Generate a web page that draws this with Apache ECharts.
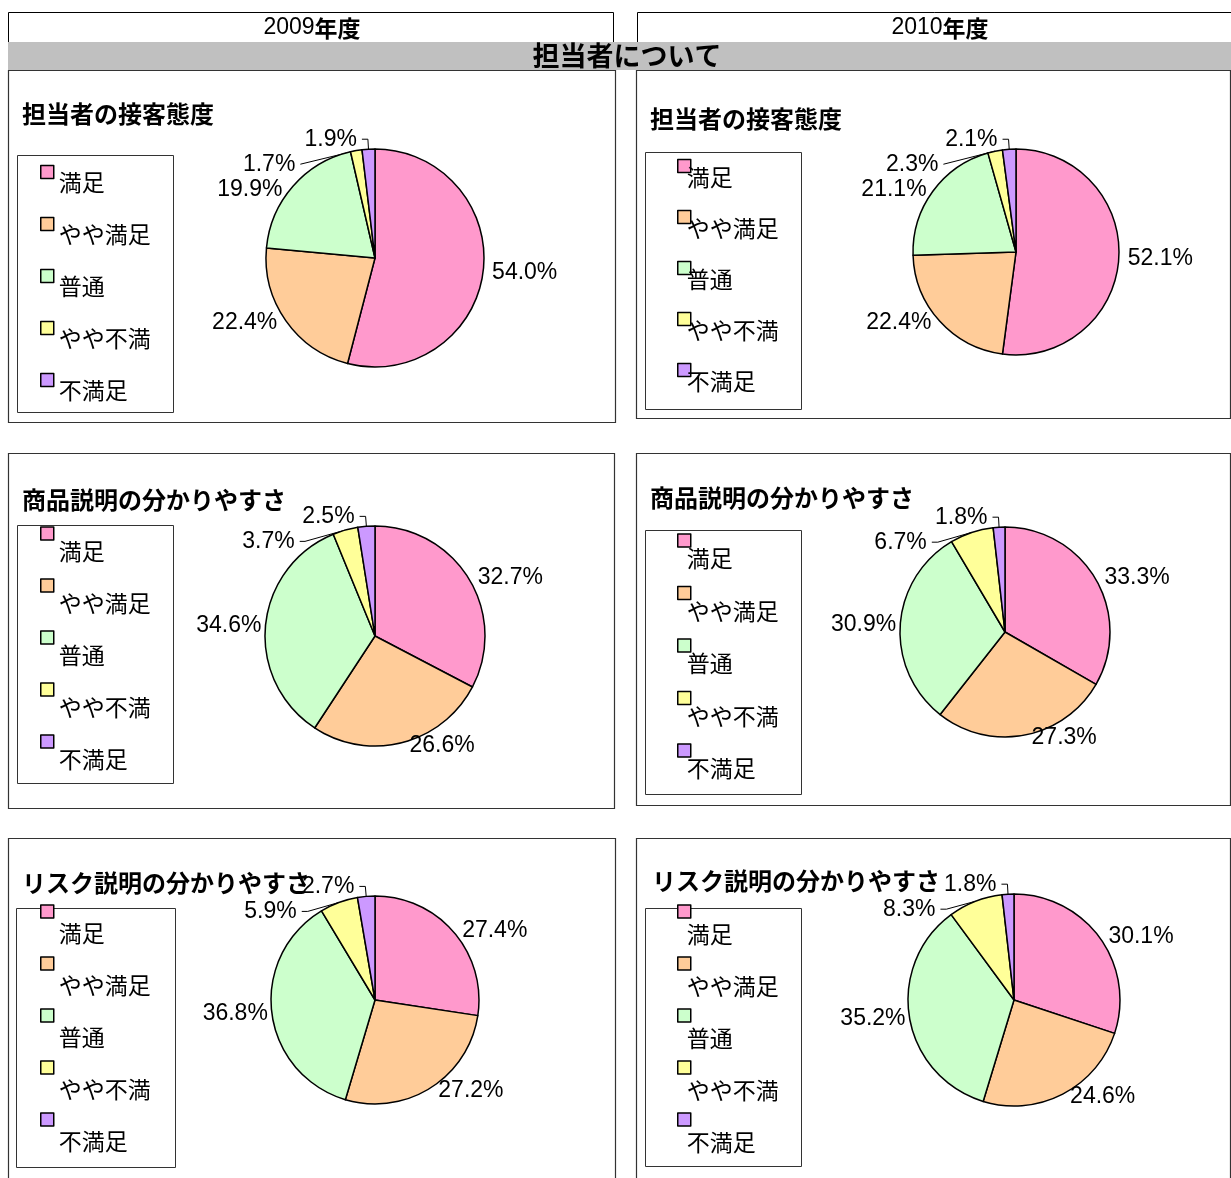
<!DOCTYPE html>
<html>
<head>
<meta charset="utf-8">
<script src="https://cdn.jsdelivr.net/npm/echarts@6/dist/echarts.min.js"></script>
<style>
  html, body { margin: 0; padding: 0; background: #fff; }
  #chart { width: 1231px; height: 1178px; }
</style>
</head>
<body>
<div id="chart"></div>
<script>
// data
const categories = ['満足', 'やや満足', '普通', 'やや不満', '不満足'];
const yearLabels = ['2009', '2010'];
const sectionTitle = '担当者について';
const questionTitles = ['担当者の接客態度', '商品説明の分かりやすさ', 'リスク説明の分かりやすさ'];
const staff2009 = [54.0, 22.4, 19.9, 1.7, 1.9];
const staff2010 = [52.1, 22.4, 21.1, 2.3, 2.1];
const product2009 = [32.7, 26.6, 34.6, 3.7, 2.5];
const product2010 = [33.3, 27.3, 30.9, 6.7, 1.8];
const risk2009 = [27.4, 27.2, 36.8, 5.9, 2.7];
const risk2010 = [30.1, 24.6, 35.2, 8.3, 1.8];

const colors = ['#FF99CC', '#FFCC99', '#CCFFCC', '#FFFF99', '#CC99FF'];
const numFont = "'Liberation Sans', Arial, sans-serif";
const jpFont = "'Noto Sans CJK JP', sans-serif";

// layout of the six panels (lh = legend line height, text drops lh/2 below icon)
const panels = [
  { values: staff2009, title: 0, box: [8, 70, 607, 352], tx: 22, ty: 114,
    center: [375, 258], r: 109, lg: [17, 155, 156, 257], lgLeft: 40, lgTop: 150.5, lh: 20, gap: 9, shift: 0 },
  { values: staff2010, title: 0, box: [636, 70, 594, 348], tx: 650, ty: 119,
    center: [1016, 252], r: 103, lg: [645, 152, 156, 257], lgLeft: 677, lgTop: 143.5, lh: 22, gap: 6, shift: -9 },
  { values: product2009, title: 1, box: [8, 453, 606, 355], tx: 22, ty: 500,
    center: [375, 636], r: 110, lg: [17, 525, 156, 258], lgLeft: 40, lgTop: 497.5, lh: 36, gap: -20, shift: 0 },
  { values: product2010, title: 1, box: [636, 453, 594, 352], tx: 650, ty: 498,
    center: [1005, 632], r: 105, lg: [645, 530, 156, 264], lgLeft: 677, lgTop: 504.5, lh: 36, gap: -19.5, shift: -9 },
  { values: risk2009, title: 2, box: [8, 838, 607, 360], tx: 22, ty: 883,
    center: [375, 1000], r: 104, lg: [16, 908, 159, 259], lgLeft: 40, lgTop: 867.5, lh: 44, gap: -36, shift: 0 },
  { values: risk2010, title: 2, box: [636, 838, 594, 360], tx: 652, ty: 881,
    center: [1014, 1000], r: 106, lg: [645, 908, 156, 258], lgLeft: 677, lgTop: 865.5, lh: 46, gap: -40, shift: -9 }
];

const chart = echarts.init(document.getElementById('chart'));

const yearRich = {
  n: { font: "23px " + numFont, fill: '#000' },
  k: { font: "bold 23px " + jpFont, fill: '#000' }
};

const graphic = [];
// year header boxes
graphic.push({ type: 'rect', shape: { x: 8.5, y: 12.5, width: 605, height: 30 }, style: { fill: '#fff', stroke: '#000', lineWidth: 1 } });
graphic.push({ type: 'rect', shape: { x: 637.5, y: 12.5, width: 600, height: 30 }, style: { fill: '#fff', stroke: '#000', lineWidth: 1 } });
yearLabels.forEach((y, i) => {
  graphic.push({ type: 'text', x: i === 0 ? 312 : 940, y: 28,
    style: { text: '{n|' + y + '}{k|年度}', rich: yearRich, fill: '#000', textAlign: 'center', textVerticalAlign: 'middle' } });
});
// section band
graphic.push({ type: 'rect', shape: { x: 8, y: 42, width: 1223, height: 28 }, style: { fill: '#C0C0C0' } });
graphic.push({ type: 'text', x: 627, y: 56, style: { text: sectionTitle, font: "bold 27px " + jpFont, fill: '#000', textAlign: 'center', textVerticalAlign: 'middle' } });

panels.forEach(p => {
  graphic.push({ type: 'rect', shape: { x: p.box[0] + 0.5, y: p.box[1] + 0.5, width: p.box[2], height: p.box[3] },
    style: { fill: 'none', stroke: '#333', lineWidth: 1.2 } });
  graphic.push({ type: 'rect', shape: { x: p.lg[0] + 0.5, y: p.lg[1] + 0.5, width: p.lg[2], height: p.lg[3] },
    style: { fill: 'none', stroke: '#333', lineWidth: 1 } });
  graphic.push({ type: 'text', x: p.tx, y: p.ty,
    style: { text: questionTitles[p.title], font: "bold 24px " + jpFont, fill: '#000', textVerticalAlign: 'middle' } });
});

const legends = panels.map(p => ({
  orient: 'vertical',
  left: p.lgLeft,
  top: p.lgTop,
  padding: 0,
  itemGap: p.gap,
  itemWidth: 13,
  itemHeight: 13,
  icon: 'rect',
  selectedMode: false,
  data: categories,
  formatter: name => '\n' + name,
  itemStyle: { borderColor: '#000', borderWidth: 1.5 },
  textStyle: {
    fontFamily: jpFont,
    fontSize: 23,
    lineHeight: p.lh,
    color: '#000',
    padding: [0, 0, 0, p.shift]
  }
}));

const series = panels.map(p => ({
  type: 'pie',
  center: p.center,
  radius: p.r,
  startAngle: 90,
  clockwise: true,
  animation: false,
  avoidLabelOverlap: true,
  itemStyle: { borderColor: '#000', borderWidth: 1.5 },
  label: {
    show: true,
    position: 'outside',
    formatter: d => d.value.toFixed(1) + '%',
    fontFamily: numFont,
    fontSize: 23,
    color: '#000'
  },
  labelLine: { show: false, length: 3, length2: 1, lineStyle: { color: '#000', width: 1 } },
  emphasis: { disabled: true },
  data: p.values.map((v, i) => ({
    name: categories[i],
    value: v,
    itemStyle: { color: colors[i] },
    labelLine: v < 10 ? { show: true, length: 10, length2: 6 } : { show: false }
  }))
}));

chart.setOption({
  backgroundColor: '#fff',
  animation: false,
  legend: legends,
  graphic: graphic,
  series: series
});
</script>
</body>
</html>
